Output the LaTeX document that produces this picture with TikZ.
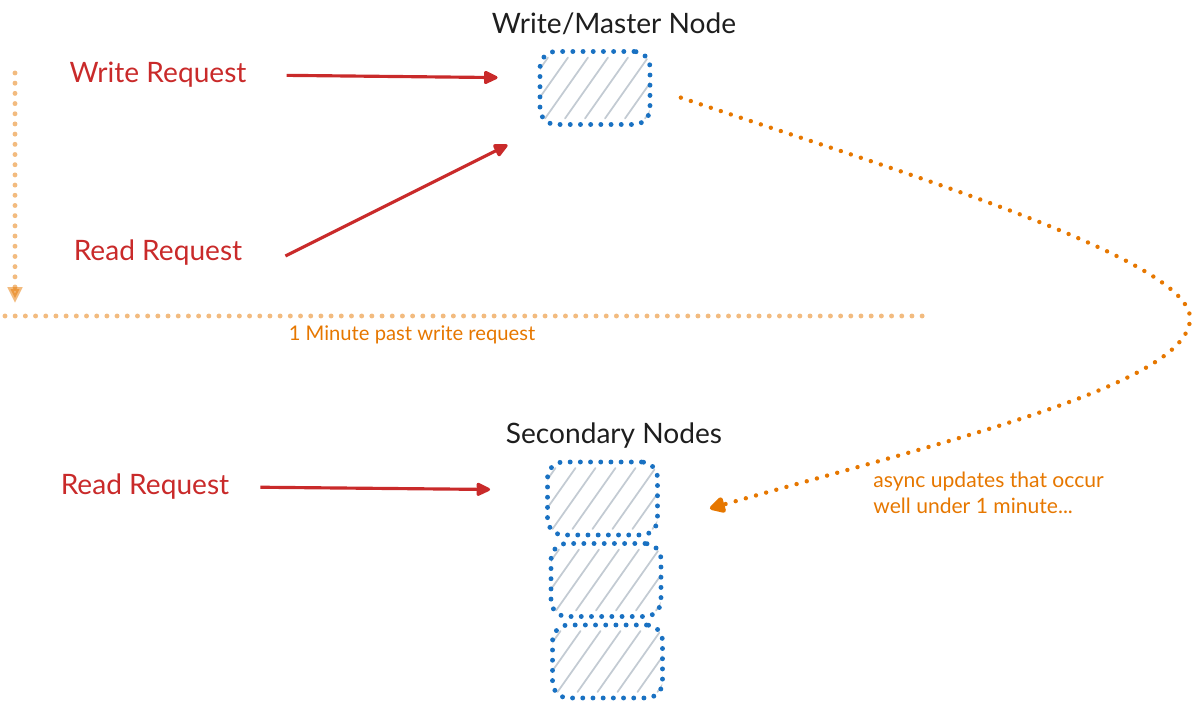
\documentclass[tikz,border=0pt]{standalone}
\usepackage{fontspec}
\setmainfont{Lato}
\usetikzlibrary{arrows.meta}
\definecolor{reqred}{HTML}{C92A2A}
\definecolor{nodeblue}{HTML}{1971C2}
\definecolor{lagorange}{HTML}{E67700}
\definecolor{hatchgray}{HTML}{C3CBD3}
\definecolor{inkblack}{HTML}{1E1E1E}
\tikzset{
  dbnode/.style={draw=nodeblue, line width=2.8pt, line cap=round,
    dash pattern=on 0pt off 5.8pt, rounded corners=0.32cm,
    minimum width=2.2cm, minimum height=1.46cm, inner sep=0pt,
    path picture={
      \foreach \k in {-2,...,5}
        \draw[hatchgray, line width=1pt, solid, line cap=round]
          ([xshift=\k*0.4cm+0.1cm, yshift=0.12cm]path picture bounding box.south west)
          -- ++(0.86cm,1.22cm);
    }},
  title/.style={text=inkblack, font=\fontsize{16}{19}\selectfont},
  reqlabel/.style={text=reqred, font=\fontsize{16}{19}\selectfont},
  note/.style={text=lagorange, font=\fontsize{11.5}{14}\selectfont, align=left},
  reqarrow/.style={draw=reqred, line width=1.8pt, -{Triangle[length=9pt,width=8pt,round]}},
  lagline/.style={draw=lagorange, opacity=0.5, line width=2.8pt, line cap=round,
    dash pattern=on 0pt off 5.8pt},
  syncarrow/.style={draw=lagorange, line width=2.5pt, line cap=round,
    dash pattern=on 0pt off 6pt, -{Triangle[length=10pt,width=10pt,round]}}
}
\begin{document}
\begin{tikzpicture}[x=0.02cm, y=-0.02cm]
  \useasboundingbox (0,0) rectangle (1200,709);
  % primary
  \node[title] (mtitle) at (614,24) {Write/Master Node};
  \node[dbnode] (master) at (595,88) {};
  % replicas
  \node[title] (stitle) at (614,436) {Secondary Nodes};
  \node[dbnode] (sec1) at (602.5,498.5) {};
  \node[dbnode] (sec2) at (606,580) {};
  \node[dbnode] (sec3) at (607.5,661.5) {};
  % clients
  \node[reqlabel] (wreq) at (158,75) {Write Request};
  \node[reqlabel] (rreq) at (158,253) {Read Request};
  \node[reqlabel] (rreqlate) at (145,487) {Read Request};
  \draw[reqarrow, shorten <=0.68cm, shorten >=0.8cm] (wreq.east) -- ([yshift=0.2cm]master.west);
  \draw[reqarrow] ([xshift=0.74cm,yshift=-0.06cm]rreq.east) -- ([xshift=-0.6cm,yshift=-0.36cm]master.south west);
  \draw[reqarrow, shorten <=0.5cm, shorten >=1.1cm] (rreqlate.east) -- ([yshift=0.17cm]sec1.west);
  % time marker
  \coordinate (tstart) at (15,73);
  \coordinate (tend) at (15,303);
  \coordinate (cutl) at (5,316);
  \coordinate (cutr) at (928,316);
  \draw[lagline, -{Triangle[length=9pt,width=8pt]}] (tstart) -- (tend);
  \draw[lagline] (cutl) -- (cutr);
  \node[note] (lagtext) at (412,335) {1 Minute past write request};
  % replication
  \draw[syncarrow, shorten <=0.6cm] (master.east) .. controls (900,172) and (1195,260) .. (1190,320)
    .. controls (1185,385) and (950,440) .. ([xshift=1cm,yshift=-0.2cm]sec1.east);
  \node[note, font=\fontsize{12}{14.5}\selectfont, anchor=north west, inner sep=0pt] (synctext) at (873,472) {async updates that occur\\well under 1 minute...};
\end{tikzpicture}
\end{document}
